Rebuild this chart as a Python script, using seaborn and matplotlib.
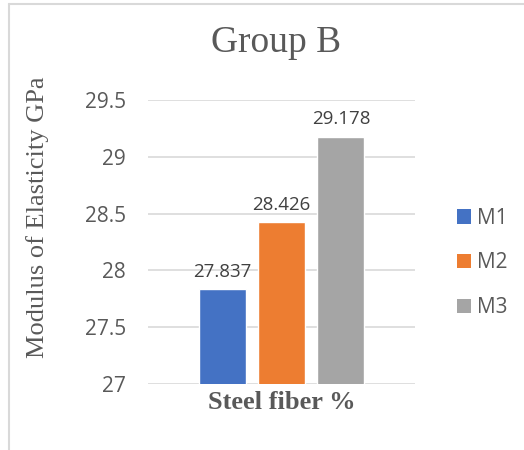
import matplotlib
matplotlib.use("Agg")
import matplotlib.pyplot as plt
import seaborn as sns
import pandas as pd
from matplotlib.lines import Line2D
from matplotlib.patches import Patch

# Chart data
category = ["Steel fiber %"]
mixes = ["M1", "M2", "M3"]
modulus = [27.837, 28.426, 29.178]
colors = ["#4472C4", "#ED7D31", "#A5A5A5"]
y_ticks = [27, 27.5, 28, 28.5, 29, 29.5]
y_tick_labels = ["27", "27.5", "28", "28.5", "29", "29.5"]

df = pd.DataFrame({
    "category": category * len(mixes),
    "mix": mixes,
    "modulus": modulus,
})

sns.set_theme(style="white")
plt.rcParams["font.family"] = ["Open Sans", "DejaVu Sans"]
serif = ["Liberation Serif", "DejaVu Serif"]

W, H = 524, 450
fig = plt.figure(figsize=(W / 100, H / 100), dpi=100)
ax = fig.add_axes([148 / W, 1 - 384 / H, (415 - 148) / W, (384 - 100) / H])

sns.barplot(data=df, x="category", y="modulus", hue="mix",
            palette=colors, width=0.668, gap=0.21, ax=ax,
            legend=False, saturation=1, errorbar=None)

ax.set_xlim(-0.5, 0.5)
ax.set_ylim(27, 29.5)
ax.set_yticks(y_ticks)
ax.set_yticklabels(y_tick_labels)
ax.yaxis.grid(True, color="#D9D9D9", linewidth=1.2)
ax.set_axisbelow(True)
for s in ax.spines.values():
    s.set_visible(False)
ax.tick_params(axis="y", length=0, pad=16, labelsize=15, labelcolor="#595959")
ax.tick_params(axis="x", length=0, pad=5)
for lab in ax.get_xticklabels():
    lab.set_fontfamily(serif)
    lab.set_fontweight("bold")
    lab.set_fontsize(19)
    lab.set_color("#595959")
ax.set_xlabel("")
ax.set_ylabel("Modulus of Elasticity GPa", fontsize=19, family=serif,
              color="#595959", va="center")
ax.yaxis.set_label_coords((38 - 148) / 267, (384 - 217) / 284)

# Value labels above the bars
for cont in ax.containers:
    ax.bar_label(cont, fmt="%.3f", padding=6, fontsize=13.5, color="#404040",
                 clip_on=False)

fig.text(276.5 / W, 1 - 43 / H, "Group B", fontsize=27, family=serif,
         color="#595959", ha="center", va="center")

handles = [Patch(facecolor=c, edgecolor="none") for c in colors]
fig.legend(handles, mixes, loc="center left",
           bbox_to_anchor=(457 / W, 1 - 263 / H), frameon=False,
           fontsize=15, handlelength=0.67, handleheight=0.67,
           handletextpad=0.3, labelspacing=1.14, borderpad=0,
           borderaxespad=0, labelcolor="#595959")

# Outer chart frame
fig.add_artist(Line2D([9 / W, 9 / W], [0, 1 - 4 / H], transform=fig.transFigure,
                      color="#D9D9D9", linewidth=1.5))
fig.add_artist(Line2D([9 / W, 1], [1 - 4 / H, 1 - 4 / H], transform=fig.transFigure,
                      color="#D9D9D9", linewidth=1.5))

fig.savefig("out.png", dpi=100, facecolor="white")
